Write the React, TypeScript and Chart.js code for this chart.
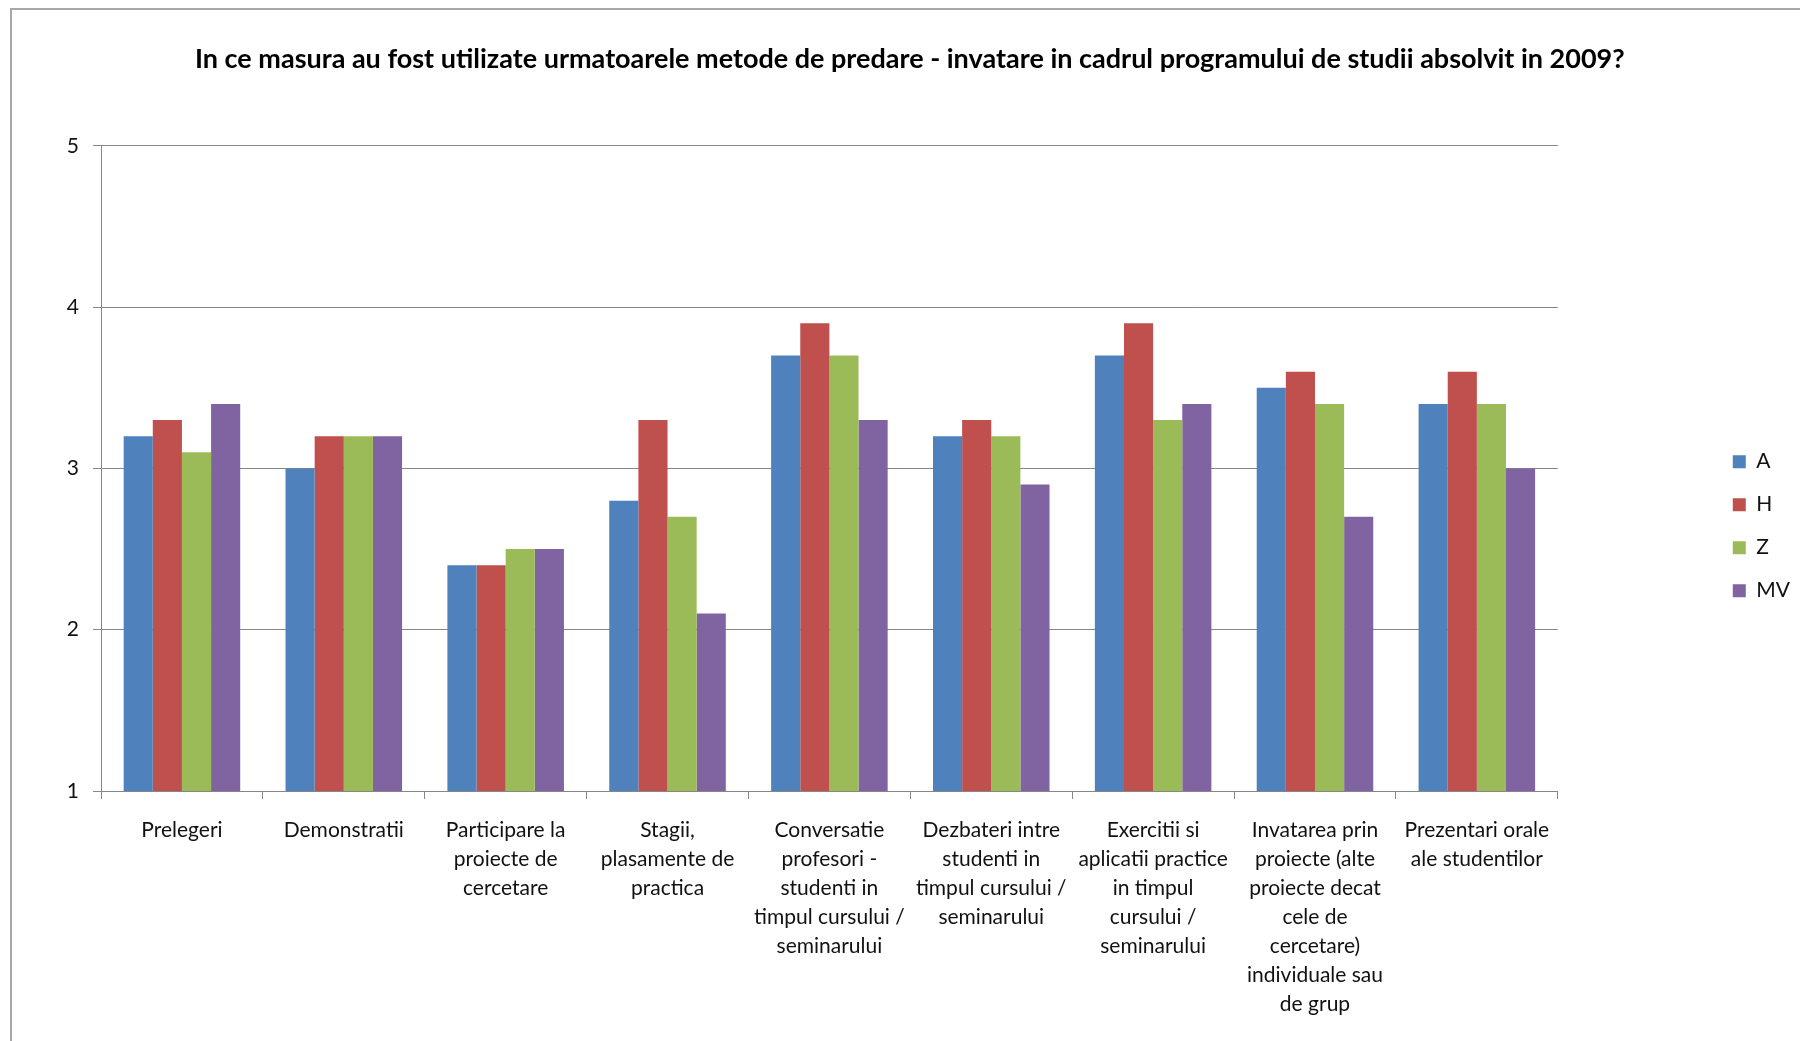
import React, { useEffect, useRef } from "react";
import { Chart, registerables } from "chart.js";

Chart.register(...registerables);

const titleText =
  "In ce masura au fost utilizate urmatoarele metode de predare - invatare in cadrul programului de studii absolvit in 2009?";

const categories: string[][] = [
  ["Prelegeri"],
  ["Demonstratii"],
  ["Participare la", "proiecte de", "cercetare"],
  ["Stagii,", "plasamente de", "practica"],
  ["Conversatie", "profesori -", "studenti in", "timpul cursului /", "seminarului"],
  ["Dezbateri intre", "studenti in", "timpul cursului /", "seminarului"],
  ["Exercitii si", "aplicatii practice", "in timpul", "cursului /", "seminarului"],
  ["Invatarea prin", "proiecte (alte", "proiecte decat", "cele de", "cercetare)", "individuale sau", "de grup"],
  ["Prezentari orale", "ale studentilor"],
];

const seriesNames = ["A", "H", "Z", "MV"];
const valuesA = [3.2, 3.0, 2.4, 2.8, 3.7, 3.2, 3.7, 3.5, 3.4];
const valuesH = [3.3, 3.2, 2.4, 3.3, 3.9, 3.3, 3.9, 3.6, 3.6];
const valuesZ = [3.1, 3.2, 2.5, 2.7, 3.7, 3.2, 3.3, 3.4, 3.4];
const valuesMV = [3.4, 3.2, 2.5, 2.1, 3.3, 2.9, 3.4, 2.7, 3.0];
const seriesColors = ["#4F81BD", "#C0504D", "#9BBB59", "#8064A2"];

const yTicks = [1, 2, 3, 4, 5];

const FONT = "Lato";
const AXIS_GRAY = "#868686";
const TEXT = "#111111";

export default function App() {
  const canvasRef = useRef<HTMLCanvasElement | null>(null);

  useEffect(() => {
    const canvas = canvasRef.current;
    if (!canvas) return;
    const allValues = [valuesA, valuesH, valuesZ, valuesMV];
    const chart = new Chart(canvas, {
      type: "bar",
      data: {
        labels: categories,
        datasets: seriesNames.map((name, i) => ({
          label: name,
          data: allValues[i],
          backgroundColor: seriesColors[i],
          borderWidth: 0,
          categoryPercentage: 0.72,
          barPercentage: 1.0,
          yAxisID: "y",
        })),
      },
      options: {
        animation: false,
        responsive: false,
        maintainAspectRatio: false,
        layout: { padding: 0 },
        plugins: {
          tooltip: { enabled: false },
          title: {
            display: true,
            text: "   " + titleText,
            color: "#000",
            font: { family: FONT, size: 27, weight: "bold" },
            padding: { top: 43.5, bottom: 70 },
          },
          legend: {
            display: true,
            position: "right",
            align: "center",
            fullSize: false,
            title: {
              display: true,
              text: "",
              font: { size: 12 },
              padding: { top: 101, bottom: 0 },
            },
            labels: {
              boxWidth: 13,
              boxHeight: 13,
              padding: 22,
              color: TEXT,
              font: { family: FONT, size: 21 },
            },
          },
        },
        scales: {
          x: {
            offset: true,
            grid: {
              display: true,
              offset: true,
              drawOnChartArea: false,
              drawTicks: true,
              tickLength: 8,
              color: AXIS_GRAY,
            },
            border: { display: true, color: AXIS_GRAY },
            ticks: {
              color: TEXT,
              font: { family: FONT, size: 21, lineHeight: 1.38 },
              padding: 17,
              maxRotation: 0,
              autoSkip: false,
            },
            afterFit: (s: any) => {
              s.height = 250;
            },
          },
          y: {
            min: 1,
            max: 5,
            afterBuildTicks: (s: any) => {
              s.ticks = yTicks.map((v) => ({ value: v }));
            },
            grid: {
              color: AXIS_GRAY,
              drawTicks: true,
              tickLength: 8,
            },
            border: { display: true, color: AXIS_GRAY },
            ticks: {
              color: TEXT,
              font: { family: FONT, size: 21 },
              padding: 14,
            },
            afterFit: (s: any) => {
              s.width = 101;
            },
          },
          spacer: {
            type: "linear",
            position: "right",
            display: true,
            grid: { display: false },
            border: { display: false },
            ticks: { display: false },
            afterFit: (s: any) => {
              s.width = 153;
            },
          },
        },
      },
    });
    return () => chart.destroy();
  }, []);

  return (
    <div
      style={{
        position: "fixed",
        left: 0,
        top: 0,
        width: 1800,
        height: 1041,
        overflow: "hidden",
        background: "#fff",
      }}
    >
      <div
        style={{
          position: "absolute",
          left: 10,
          top: 8,
          width: 1900,
          height: 1200,
          border: "2px solid #a8a8a8",
          boxSizing: "border-box",
        }}
      />
      <canvas
        ref={canvasRef}
        width={1800}
        height={1041}
        style={{ position: "absolute", left: 0, top: 0, width: 1800, height: 1041 }}
      />
    </div>
  );
}
